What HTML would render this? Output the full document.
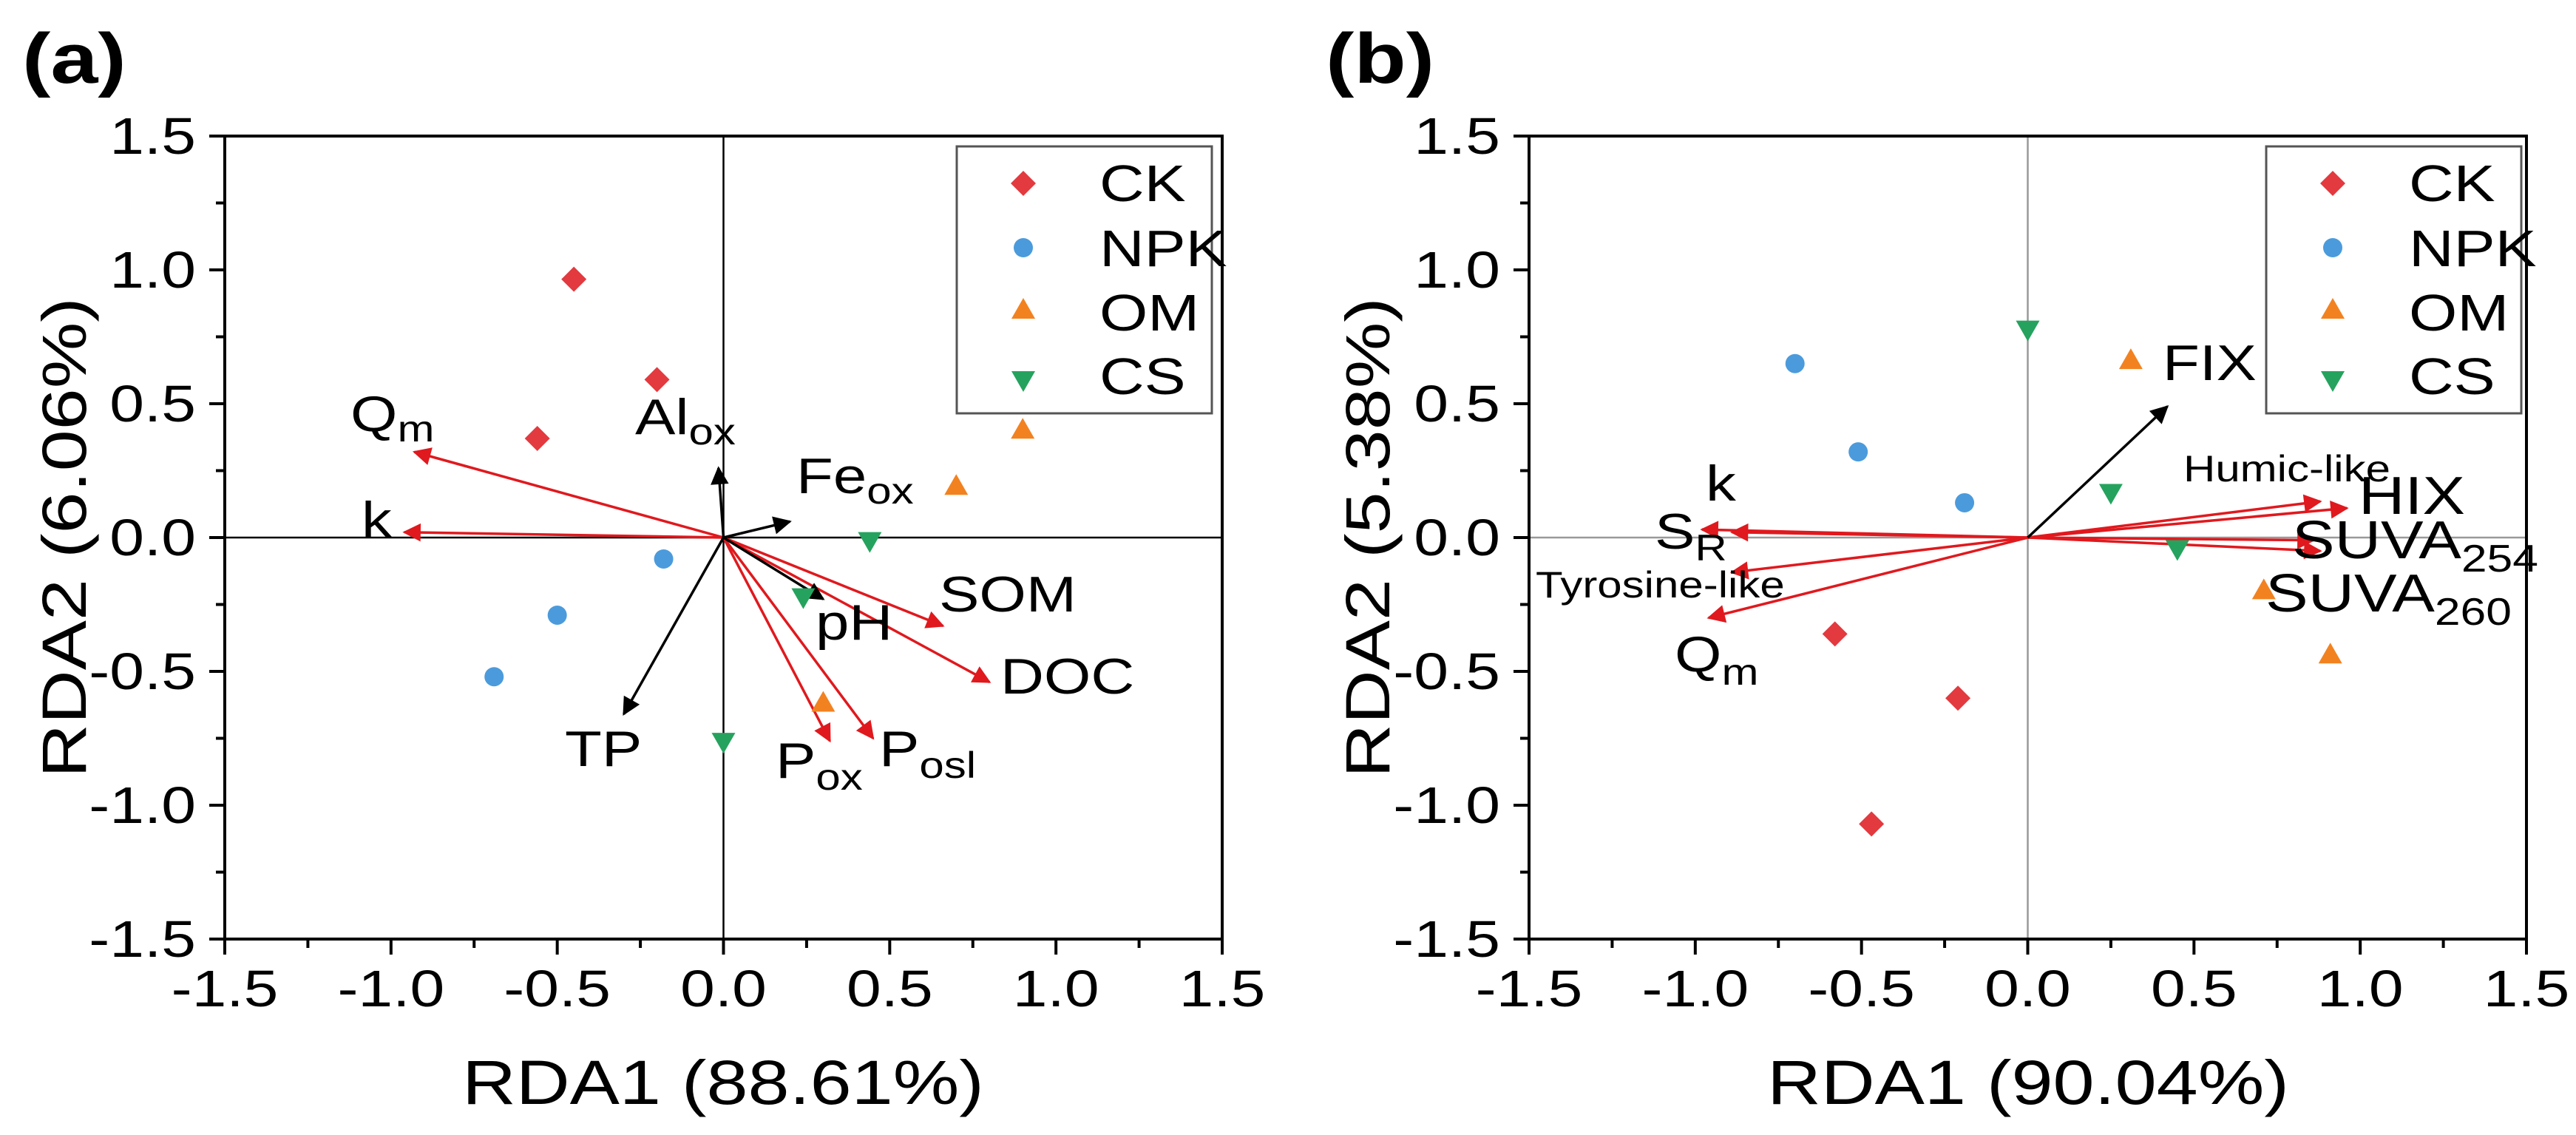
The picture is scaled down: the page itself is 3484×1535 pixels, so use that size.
<!DOCTYPE html>
<html><head><meta charset="utf-8">
<style>
html,body{margin:0;padding:0;background:#fff;}
svg{display:block;font-family:"Liberation Sans",Arial,sans-serif;}
</style></head>
<body>
<svg id="fig" width="3484" height="1535" viewBox="0 0 3484 1535" xmlns="http://www.w3.org/2000/svg">
<defs>
<marker id="ahR" viewBox="0 0 10 10" refX="9" refY="5" markerWidth="10" markerHeight="7" markerUnits="strokeWidth" orient="auto"><path d="M0,0 L10,5 L0,10 z" fill="#e0191e"/></marker>
<marker id="ahK" viewBox="0 0 10 10" refX="9" refY="5" markerWidth="10" markerHeight="7" markerUnits="strokeWidth" orient="auto"><path d="M0,0 L10,5 L0,10 z" fill="#000"/></marker>
</defs>
<g id="panelA"></g>
<g id="panelB"></g>
<g>
<text x="30" y="112" font-size="96" font-weight="bold">(a)</text>
<text x="1793" y="112" font-size="96" font-weight="bold">(b)</text>
</g>
<g font-size="84">
<text x="978" y="1493" text-anchor="middle">RDA1 (88.61%)</text>
<text class="rot" transform="translate(116,727) rotate(-90) scale(1.2,1)" text-anchor="middle">RDA2 (6.06%)</text>
<text x="2743" y="1493" text-anchor="middle">RDA1 (90.04%)</text>
<text class="rot" transform="translate(1879,727) rotate(-90) scale(1.2,1)" text-anchor="middle">RDA2 (5.38%)</text>
</g>
<g font-size="68">
<text x="474" y="583">Q<tspan font-size="50" dy="14">m</tspan></text>
<text x="859" y="587">Al<tspan font-size="50" dy="14">ox</tspan></text>
<text x="1077" y="667">Fe<tspan font-size="50" dy="14">ox</tspan></text>
<text x="489" y="726">k</text>
<text x="1270" y="827">SOM</text>
<text x="1103" y="865">pH</text>
<text x="1353" y="938">DOC</text>
<text x="764" y="1036">TP</text>
<text x="1049" y="1052">P<tspan font-size="50" dy="16">ox</tspan></text>
<text x="1189" y="1036">P<tspan font-size="50" dy="16">osl</tspan></text>
</g>
<g font-size="68">
<text x="2925" y="514">FIX</text>
<text x="2953" y="651" font-size="50">Humic-like</text>
<text x="3190" y="695" font-size="72">HIX</text>
<text x="3100" y="755" font-size="72">SUVA<tspan font-size="52" dy="18">254</tspan></text>
<text x="3064" y="827" font-size="72">SUVA<tspan font-size="52" dy="18">260</tspan></text>
<text x="2307" y="677">k</text>
<text x="2238" y="742">S<tspan font-size="50" dy="16">R</tspan></text>
<text x="2077" y="808" font-size="50">Tyrosine-like</text>
<text x="2265" y="908">Q<tspan font-size="50" dy="18">m</tspan></text>
</g>
</svg>
<script>
// ---- Panel (a) data ----
const groups = ["CK","NPK","OM","CS"];
const aCKx = [-0.45,-0.20,-0.56], aCKy = [0.965,0.59,0.37];
const aNPKx = [-0.18,-0.50,-0.69], aNPKy = [-0.08,-0.29,-0.52];
const aOMx = [0.90,0.70,0.30], aOMy = [0.40,0.19,-0.62];
const aCSx = [0.44,0.24,0.00], aCSy = [-0.01,-0.22,-0.76];
const aRedNames = ["Qm","k","SOM","DOC","Pox","Posl"];
const aRedX = [-0.93,-0.96,0.66,0.80,0.32,0.45];
const aRedY = [0.32,0.02,-0.33,-0.54,-0.76,-0.75];
const aBlackNames = ["Alox","Feox","pH","TP"];
const aBlackX = [-0.015,0.20,0.30,-0.30];
const aBlackY = [0.26,0.06,-0.23,-0.66];
// ---- Panel (b) data ----
const bCKx = [-0.58,-0.21,-0.47], bCKy = [-0.36,-0.60,-1.07];
const bNPKx = [-0.70,-0.51,-0.19], bNPKy = [0.65,0.32,0.13];
const bOMx = [0.31,0.71,0.91], bOMy = [0.66,-0.20,-0.44];
const bCSx = [0.00,0.25,0.45], bCSy = [0.78,0.17,-0.04];
const bRedNames = ["HIX","Humic-like","SUVA254","SUVA260","k","SR","Tyrosine-like","Qm"];
const bRedX = [0.96,0.88,0.86,0.88,-0.98,-0.89,-0.89,-0.96];
const bRedY = [0.11,0.135,-0.01,-0.05,0.03,0.02,-0.13,-0.30];
const bBlackNames = ["FIX"];
const bBlackX = [0.42];
const bBlackY = [0.49];
const tickVals = [-1.5,-1.0,-0.5,0.0,0.5,1.0,1.5];
const tickLabels = ["-1.5","-1.0","-0.5","0.0","0.5","1.0","1.5"];

const NS="http://www.w3.org/2000/svg";
function mk(tag,attrs,parent){const e=document.createElementNS(NS,tag);for(const k in attrs)e.setAttribute(k,attrs[k]);parent.appendChild(e);return e;}
const colors={CK:"#e23a3f",NPK:"#4b9bdc",OM:"#f28220",CS:"#25a35e"};

function marker(g,grp,cx,cy){
  let e;
  if(grp==="CK"){e=mk("polygon",{points:`${cx},${cy-17} ${cx+17},${cy} ${cx},${cy+17} ${cx-17},${cy}`,fill:colors.CK},g);}
  else if(grp==="NPK"){e=mk("circle",{cx:cx,cy:cy,r:13,fill:colors.NPK},g);}
  else if(grp==="OM"){e=mk("polygon",{points:`${cx},${cy-17} ${cx+16},${cy+11} ${cx-16},${cy+11}`,fill:colors.OM},g);}
  else {e=mk("polygon",{points:`${cx},${cy+17} ${cx+16},${cy-11} ${cx-16},${cy-11}`,fill:colors.CS},g);}
  return e;
}

function panel(g,L,R,T,B,zeroColor,legX,data){
  const sx=v=>L+(v+1.5)/3*(R-L), sy=v=>B-(v+1.5)/3*(B-T);
  let z1=mk("line",{x1:L,x2:R,y1:sy(0),y2:sy(0),stroke:zeroColor,"stroke-width":2.5},g);
  
  
  let z2=mk("line",{x1:sx(0),x2:sx(0),y1:T,y2:B,stroke:zeroColor,"stroke-width":2.5},g);
  
  
  let fr=mk("rect",{x:L,y:T,width:R-L,height:B-T,fill:"none",stroke:"#000","stroke-width":4},g);
  
  
  const tg=mk("g",{},g);
  
  
  for(let i=0;i<tickVals.length;i++){
    const v=tickVals[i];
    mk("line",{x1:sx(v),x2:sx(v),y1:B,y2:B+21,stroke:"#000","stroke-width":4},tg);
    mk("line",{x1:L-21,x2:L,y1:sy(v),y2:sy(v),stroke:"#000","stroke-width":4},tg);
    if(i<tickVals.length-1){const m=v+0.25;
      mk("line",{x1:sx(m),x2:sx(m),y1:B,y2:B+12,stroke:"#000","stroke-width":4},tg);
      mk("line",{x1:L-12,x2:L,y1:sy(m),y2:sy(m),stroke:"#000","stroke-width":4},tg);}
    let xt=mk("text",{x:sx(v),y:B+91,"font-size":70,"text-anchor":"middle",fill:"#000"},g);
    xt.textContent=tickLabels[i];
    
    
    let yt=mk("text",{x:L-39,y:sy(v)+24,"font-size":70,"text-anchor":"end",fill:"#000"},g);
    yt.textContent=tickLabels[i];
    
    
  }
  const ox=sx(0), oy=sy(0);
  for(let i=0;i<data.redX.length;i++){
    let a=mk("line",{x1:ox,y1:oy,x2:sx(data.redX[i]),y2:sy(data.redY[i]),stroke:"#e0191e","stroke-width":3.5,"marker-end":"url(#ahR)"},g);
    
    
  }
  for(let i=0;i<data.blkX.length;i++){
    let a=mk("line",{x1:ox,y1:oy,x2:sx(data.blkX[i]),y2:sy(data.blkY[i]),stroke:"#000","stroke-width":3.5,"marker-end":"url(#ahK)"},g);
    
    
  }
  for(const grp of groups){
    const xs=data.pts[grp][0], ys=data.pts[grp][1];
    for(let i=0;i<xs.length;i++){
      let m=marker(g,grp,sx(xs[i]),sy(ys[i]));
      
      
    }
  }
  const lg=mk("g",{},g);
  
  
  mk("rect",{x:legX,y:198,width:345,height:361,fill:"#fff",stroke:"#555","stroke-width":3},lg);
  const rows=[248,335,420,513], base=[272,360,447,533];
  groups.forEach((grp,i)=>{
    marker(lg,grp,legX+90,rows[i]);
    let t=mk("text",{x:legX+193,y:base[i],"font-size":70,fill:"#000"},lg);
    t.textContent=grp;
    
    
  });
}

const gA=document.getElementById("panelA"), gB=document.getElementById("panelB");
panel(gA,304,1653,184,1270,"#000",1294,{
  redX:aRedX,redY:aRedY,redN:aRedNames,blkX:aBlackX,blkY:aBlackY,blkN:aBlackNames,
  pts:{CK:[aCKx,aCKy],NPK:[aNPKx,aNPKy],OM:[aOMx,aOMy],CS:[aCSx,aCSy]}});
panel(gB,2068,3417,184,1270,"#999",3065,{
  redX:bRedX,redY:bRedY,redN:bRedNames,blkX:bBlackX,blkY:bBlackY,blkN:bBlackNames,
  pts:{CK:[bCKx,bCKy],NPK:[bNPKx,bNPKy],OM:[bOMx,bOMy],CS:[bCSx,bCSy]}});

// horizontal stretch of text to match reference glyph widths
document.querySelectorAll('#fig text').forEach(t=>{
  if(t.classList.contains('rot')) return;
  const x=parseFloat(t.getAttribute('x'));
  t.setAttribute('transform',`translate(${x},0) scale(1.2,1) translate(${-x},0)`);
});
</script>
</body></html>
